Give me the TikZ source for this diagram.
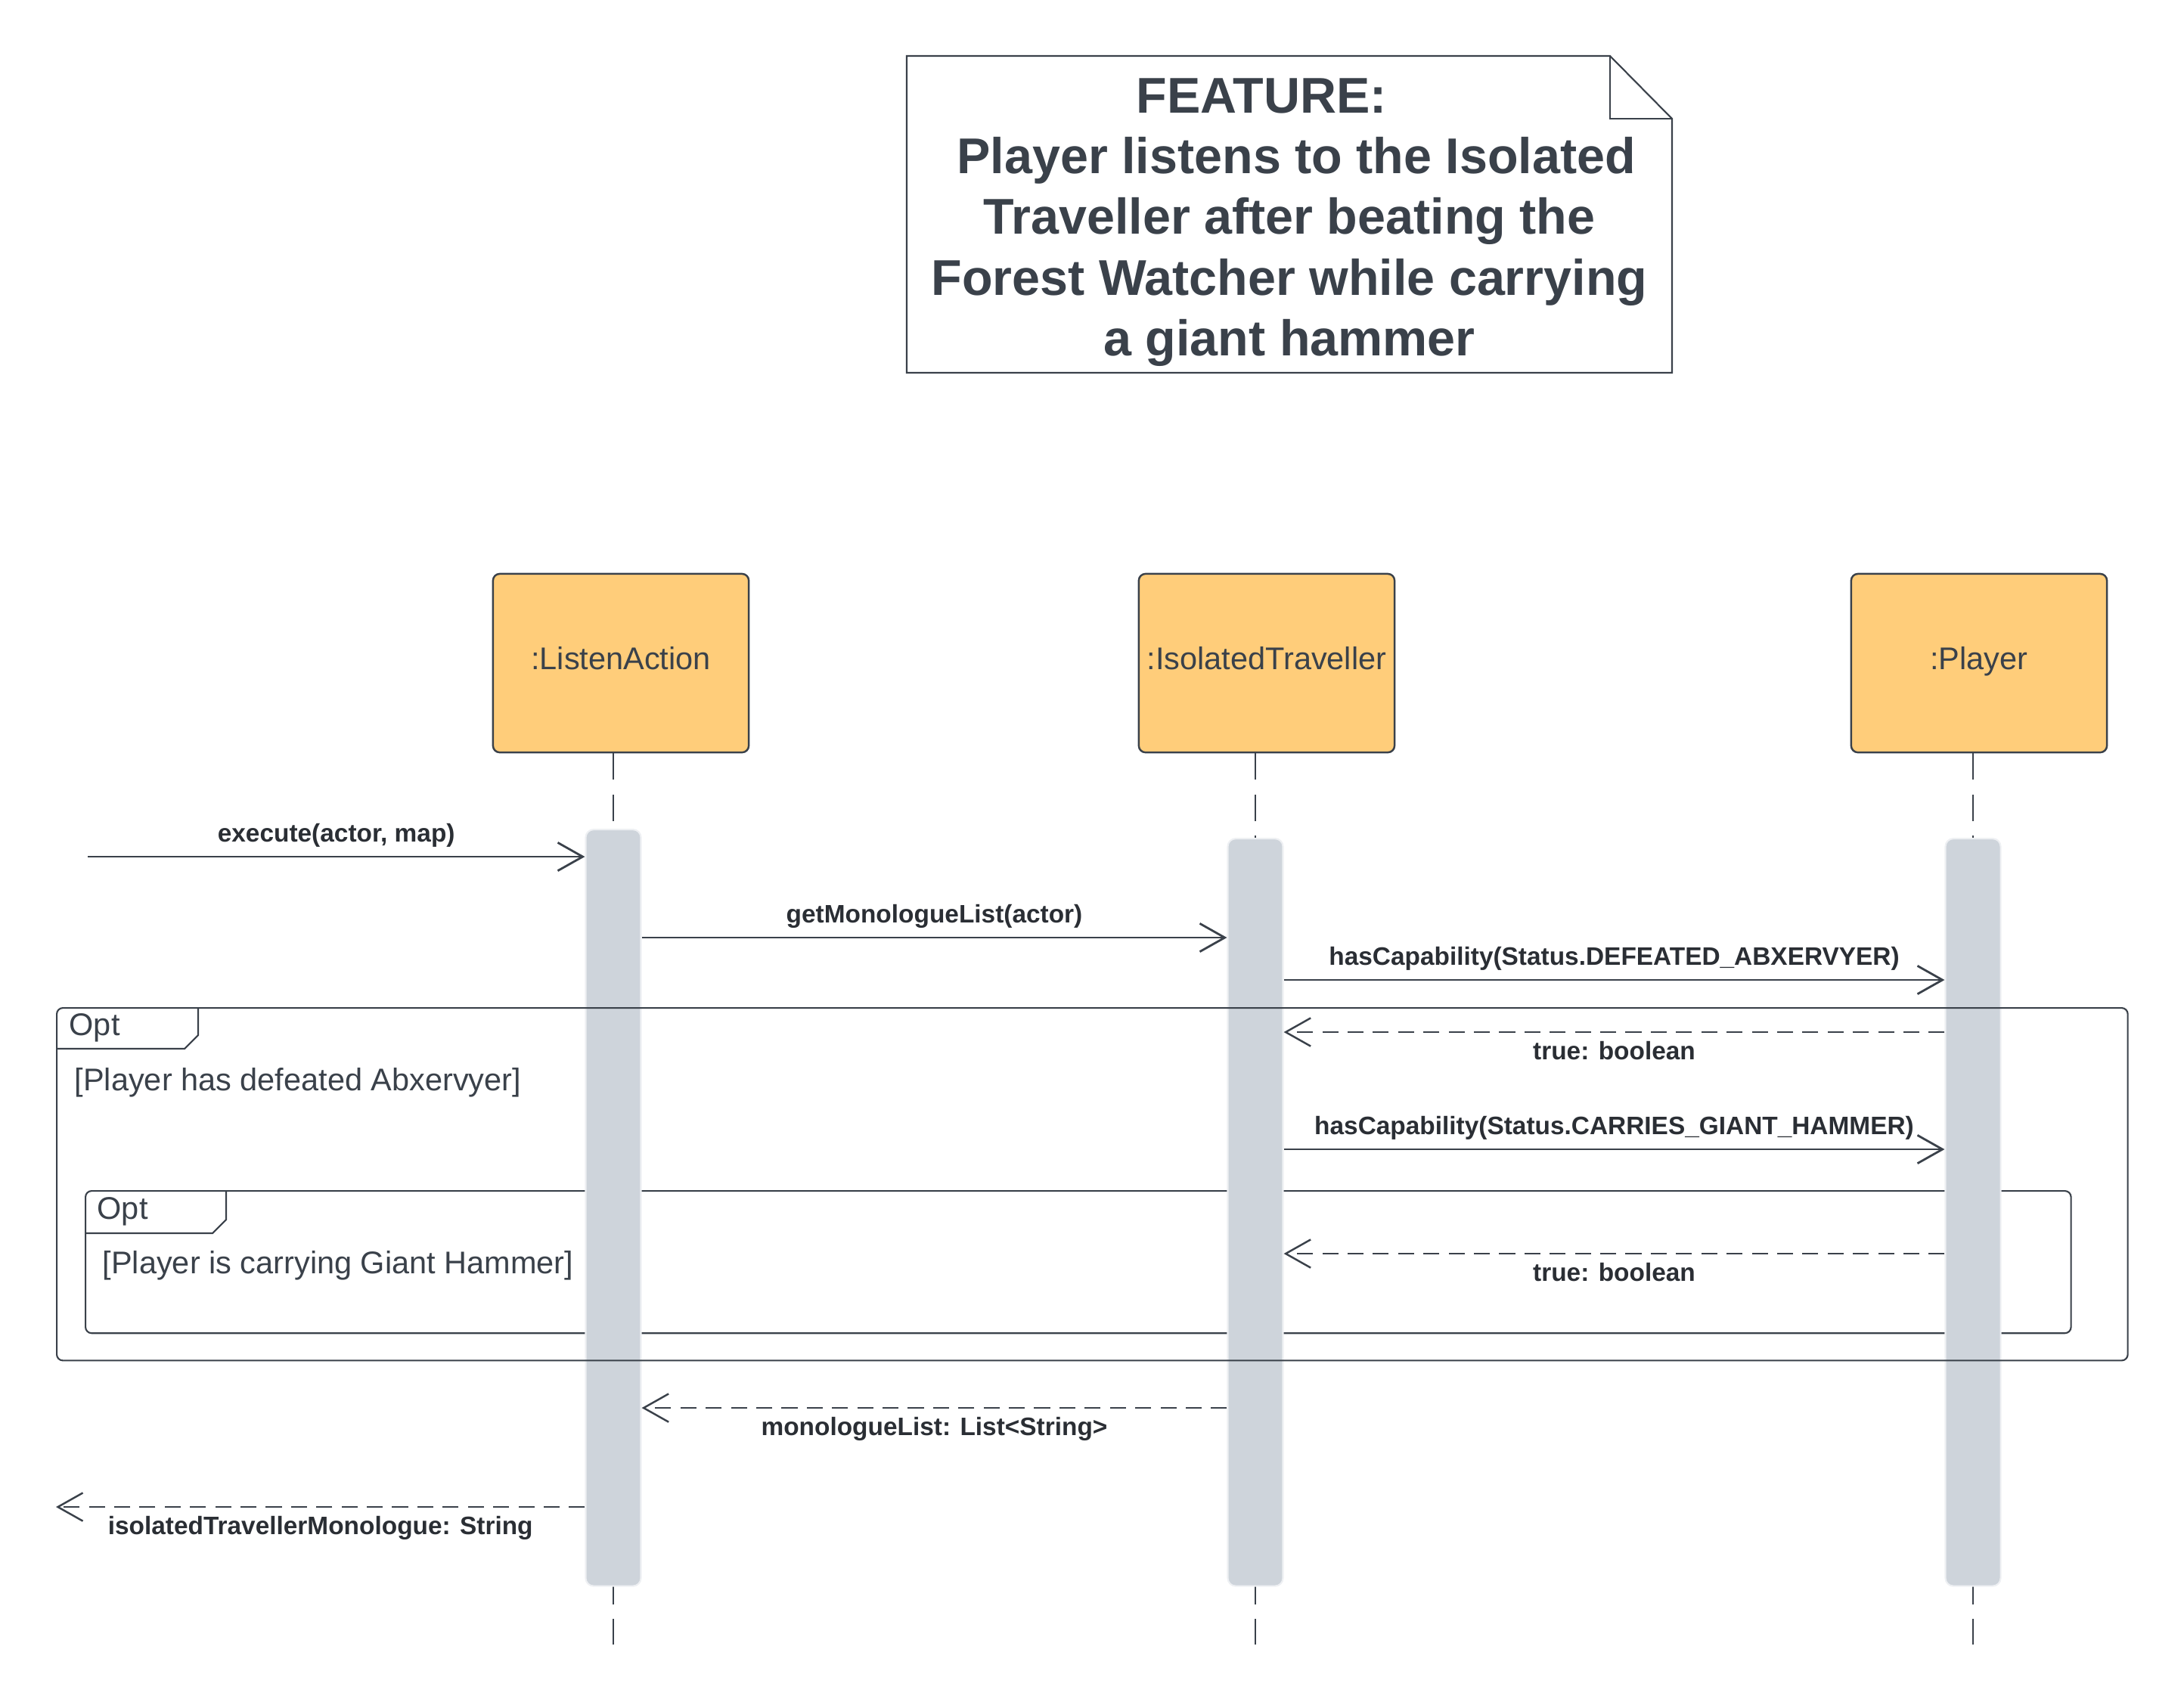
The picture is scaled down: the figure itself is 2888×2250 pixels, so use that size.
\documentclass[tikz,border=0pt]{standalone}
\usepackage{fontspec}
\setmainfont{Liberation Sans}
\usetikzlibrary{positioning,arrows.meta,calc,backgrounds}

\definecolor{inkGray}{HTML}{3A414A}
\definecolor{labelInk}{HTML}{2A2E34}
\definecolor{boxFill}{HTML}{FFCD7A}
\definecolor{barFill}{HTML}{CED4DB}
\definecolor{barEdge}{HTML}{EEF0F3}

\begin{document}
\begin{tikzpicture}[x=0.01cm,y=-0.01cm,>={Straight Barb[length=9.4pt,width=10.6pt]}]
  \useasboundingbox (0,0) rectangle (2888,2250);
  \tikzset{
    objectBox/.style={rectangle,rounded corners=2.5pt,draw=inkGray,line width=0.7pt,fill=boxFill,inner sep=1pt,
      minimum width=3.38cm,minimum height=2.36cm,text height=0.72em,text depth=0.22em,
      text=inkGray,font=\fontsize{11.8}{14}\selectfont},
    activationBar/.style={rectangle,rounded corners=3pt,fill=barFill,draw=barEdge,line width=0.6pt,
      minimum width=0.73cm,anchor=north,inner sep=0pt},
    lifeLine/.style={draw=inkGray,line width=0.5pt,dash pattern=on 10pt off 5.5pt},
    noteBox/.style={draw=inkGray,line width=0.6pt},
    fragFrame/.style={rectangle,rounded corners=2.3pt,draw=inkGray,line width=0.6pt,anchor=north west,inner sep=0pt},
    fragLine/.style={draw=inkGray,line width=0.6pt},
    guardText/.style={anchor=west,inner sep=0pt,text=inkGray,font=\fontsize{11.8}{14}\selectfont},
    % edge styles
    callMsg/.style={->,draw=inkGray,line width=0.8pt},
    replyMsg/.style={->,draw=inkGray,line width=0.7pt,dash pattern=on 6pt off 3.5pt},
    % label styles
    msgLabel/.style={midway,inner sep=0pt,text height=7pt,text depth=2pt,text=labelInk,
      font=\bfseries\fontsize{9.5}{11}\selectfont},
    callLabel/.style={msgLabel,yshift=0.28cm},
    replyLabel/.style={msgLabel,yshift=-0.28cm}
  }

  %%% Feature note
  \coordinate (noteNW) at (1199,74);
  \coordinate (noteSE) at (2211,493);
  \draw[noteBox] (noteNW) -- (2129,74) -- (2211,157) -- (noteSE) -- (noteNW |- noteSE) -- cycle;
  \draw[noteBox] (2129,74) -- (2129,157) -- (2211,157);
  \node[align=center,text=inkGray,font=\bfseries\fontsize{18.9}{22.8}\selectfont] (featureText) at (1705,294)
    {FEATURE:\hspace*{1.1em}\\\hspace*{0.28em}Player listens to the Isolated\\Traveller after beating the\\
     Forest Watcher while carrying\\a giant hammer};

  %%% Objects and activations
  \node[objectBox] (listenAction) at (821,877) {:ListenAction};
  \node[objectBox] (isoTraveller) [right=5.13cm of listenAction] {:IsolatedTraveller};
  \node[objectBox] (player) [right=6.01cm of isoTraveller] {:Player};

  \node[activationBar,minimum height=10cm] (listenBar) at (811,1096) {};
  \node[activationBar,minimum height=9.88cm] (isoBar) at (1660,1108) {};
  \node[activationBar,minimum height=9.88cm] (playerBar) at (2609,1108) {};

  \coordinate (lifeEnd) at (0,2175);
  \begin{scope}[on background layer]
    \foreach \bar/\obj in {listenBar/listenAction,isoBar/isoTraveller,playerBar/player}
      \draw[lifeLine] (\bar.north |- \obj.south) -- (\bar.north |- lifeEnd);

    % inner Opt frame (behind the bars)
    \node[fragFrame,minimum width=26.24cm,minimum height=1.88cm] (innerOpt) at (112,1574) {};
    \draw[fragLine] ($(innerOpt.north west)+(0,57)$) -- ++(169,0) -- ++(18,-18) -- ++(0,-39);
  \end{scope}
  \node[guardText] (innerTag) at ($(innerOpt.north west)+(16,28)$) {Opt};
  \node[guardText] (innerGuard) at ($(innerOpt.north west)+(23,100)$) {[Player is carrying Giant Hammer]};

  % outer Opt frame (over the bars)
  \node[fragFrame,minimum width=27.37cm,minimum height=4.66cm] (outerOpt) at (74,1332) {};
  \draw[fragLine] ($(outerOpt.north west)+(0,55)$) -- ++(170,0) -- ++(18,-18) -- ++(0,-37);
  \node[guardText] (outerTag) at ($(outerOpt.north west)+(17,27)$) {Opt};
  \node[guardText] (outerGuard) at ($(outerOpt.north west)+(24,100)$) {[Player has defeated Abxervyer]};

  %%% Messages
  \coordinate (startIn) at (116,1133);
  \coordinate (yGet) at (0,1240);
  \coordinate (yDef) at (0,1296);
  \coordinate (yRetA) at (0,1365);
  \coordinate (yCar) at (0,1520);
  \coordinate (yRetB) at (0,1658);
  \coordinate (yList) at (0,1862);
  \coordinate (endOut) at (74,1993);

  \draw[callMsg] (startIn) -- (listenBar.west |- startIn) node[callLabel] {execute(actor, map)};
  \draw[callMsg] (listenBar.east |- yGet) -- (isoBar.west |- yGet) node[callLabel] {getMonologueList(actor)};
  \draw[callMsg] (isoBar.east |- yDef) -- (playerBar.west |- yDef) node[callLabel] {hasCapability(Status.DEFEATED\_ABXERVYER)};
  \draw[replyMsg] (playerBar.west |- yRetA) -- (isoBar.east |- yRetA) node[replyLabel] {true: boolean};
  \draw[callMsg] (isoBar.east |- yCar) -- (playerBar.west |- yCar) node[callLabel] {hasCapability(Status.CARRIES\_GIANT\_HAMMER)};
  \draw[replyMsg] (playerBar.west |- yRetB) -- (isoBar.east |- yRetB) node[replyLabel] {true: boolean};
  \draw[replyMsg] (isoBar.west |- yList) -- (listenBar.east |- yList) node[replyLabel] {monologueList: List<String>};
  \draw[replyMsg] (listenBar.west |- endOut) -- (endOut) node[replyLabel] {isolatedTravellerMonologue: String};

\end{tikzpicture}
\end{document}
